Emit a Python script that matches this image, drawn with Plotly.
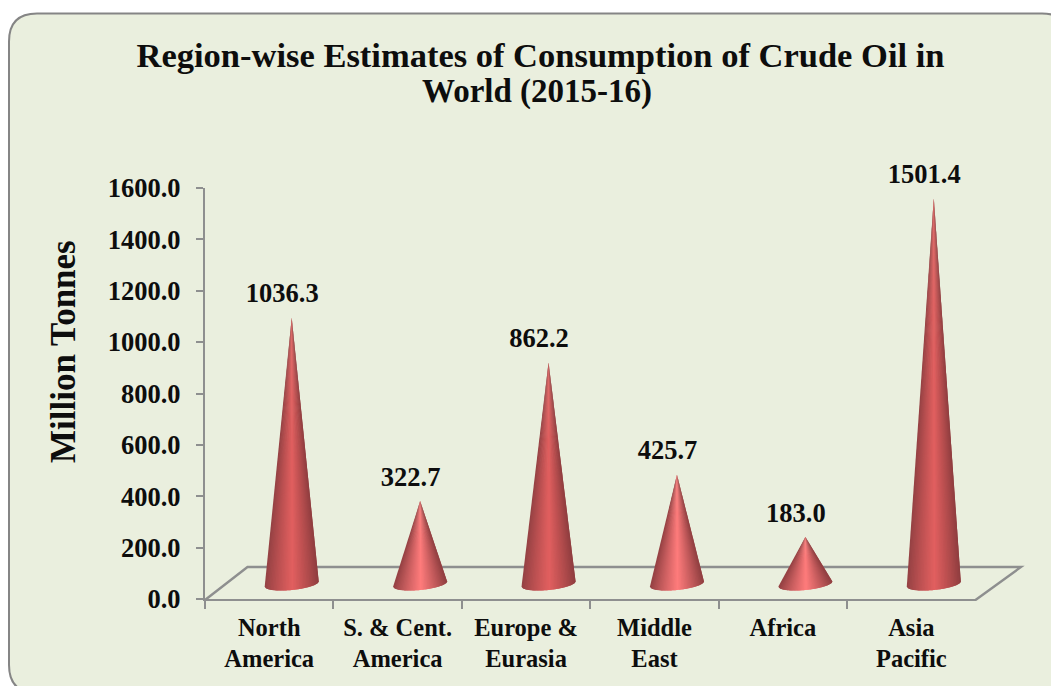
import numpy as np
import plotly.graph_objects as go

W, H = 1051, 686
categories = ["North<br>America", "S. & Cent.<br>America", "Europe &<br>Eurasia",
              "Middle<br>East", "Africa", "Asia<br>Pacific"]
values = [1036.3, 322.7, 862.2, 425.7, 183.0, 1501.4]
value_labels = ["1036.3", "322.7", "862.2", "425.7", "183.0", "1501.4"]
y_ticks = [0, 200, 400, 600, 800, 1000, 1200, 1400, 1600]
y_tick_labels = ["0.0", "200.0", "400.0", "600.0", "800.0", "1000.0", "1200.0", "1400.0", "1600.0"]
title_line_1 = "Region-wise Estimates of Consumption of Crude Oil in"
title_line_2 = "World (2015-16)"
y_title = "Million Tonnes"

# Layout geometry (pixels)
X0, X1, Y0, Y1 = 205.0, 975.5, 599.0, 188.0
cat_px = (X1 - X0) / len(categories)
val_px = (Y0 - Y1) / 1600.0
FONT = "Liberation Serif"
TEXT = "#0d0d0d"
GRID = "#8e8f8f"
PANEL = "#EAEFDE"

# Depth of the pseudo-3D box, in data units of each axis
DX = 22.5 / cat_px
DY = 15.0 / val_px
HALF_W = 27.0 / cat_px
ELL_B = 6.0 / val_px
ELL_T = 2.6 / val_px


def mix(a, b, t):
    return tuple(a[i] + (b[i] - a[i]) * t for i in range(3))


def shade(u, bright):
    edge_l, edge_r = (150, 66, 68), (140, 60, 62)
    edge = edge_l if u < 0 else edge_r
    t = (1 - abs(u - 0.02)) ** 0.9
    c = mix(edge, bright, max(0.0, min(1.0, t)))
    return "rgb(%d,%d,%d)" % c


fig = go.Figure()
# Invisible carrier of the visible category axis
fig.add_trace(go.Bar(x=categories, y=values, marker=dict(opacity=0, line=dict(width=0)),
                     hoverinfo="skip", showlegend=False, xaxis="x", yaxis="y"))

N = 36
for i, v in enumerate(values):
    cx = i + DX
    apex = v + DY
    base = DY
    bright = (226, 96, 96) if v > 700 else (255, 124, 124)
    edges = np.linspace(-1, 1, N + 1)
    for k in range(N):
        # Each slice overlaps the next one, so no seams show between them
        us = np.linspace(edges[k], edges[min(k + 2, N)], 5)
        bx = cx + HALF_W * us
        by = base - ELL_B * np.sqrt(np.clip(1 - us ** 2, 0, 1)) + ELL_T * us
        col = shade((edges[k] + edges[k + 1]) / 2, bright)
        fig.add_trace(go.Scatter(
            x=[cx, *bx, cx], y=[apex, *by, apex], mode="lines", fill="toself",
            fillcolor=col, line=dict(color=col, width=0), hoverinfo="skip",
            showlegend=False, xaxis="x2", yaxis="y2"))

# Value labels sit above each apex
fig.add_trace(go.Scatter(
    x=[i + DX - 9.5 / cat_px for i in range(len(values))],
    y=[v + DY + 22 / val_px for v in values],
    text=value_labels, mode="text", textposition="middle center",
    textfont=dict(family=FONT, size=26.5, color=TEXT, weight=700),
    hoverinfo="skip", showlegend=False, xaxis="x2", yaxis="y2"))


def panel_path(l, t, r, b, rad):
    return (f"M {l},{(H-t-rad)/H} Q {l},{(H-t)/H} {l+rad/W},{(H-t)/H} "
            f"L {r-rad/W},{(H-t)/H} Q {r},{(H-t)/H} {r},{(H-t-rad)/H} "
            f"L {r},{(H-b+rad)/H} Q {r},{(H-b)/H} {r-rad/W},{(H-b)/H} "
            f"L {l+rad/W},{(H-b)/H} Q {l},{(H-b)/H} {l},{(H-b+rad)/H} Z")


def px(x, y):
    return x / W, 1 - y / H


fl = [px(205, 600), px(247.5, 567), px(1021, 567), px(975.5, 600)]
floor = "M " + " L ".join(f"{a},{b}" for a, b in fl)

shapes = [
    dict(type="path", xref="paper", yref="paper", layer="below",
         path=panel_path(9.0 / W, 13.5, 1070.0 / W, 693.0, 28),
         fillcolor=PANEL, line=dict(color="#858585", width=2)),
    dict(type="path", xref="paper", yref="paper", layer="below",
         path=floor, line=dict(color=GRID, width=2.4)),
]

fig.update_layout(
    width=W, height=H, margin=dict(l=0, r=0, t=0, b=0, autoexpand=False), autosize=False,
    paper_bgcolor="white", plot_bgcolor="rgba(0,0,0,0)", showlegend=False,
    shapes=shapes,
    title=dict(text=title_line_1, x=540.5 / W, xanchor="center", xref="paper",
               y=1 - 55 / H, yanchor="middle", yref="container",
               font=dict(family=FONT, size=34.5, color=TEXT, weight=700)),
    annotations=[
        dict(text=title_line_2, x=537 / W, y=1 - 92 / H, xref="paper", yref="paper",
             xanchor="center", yanchor="middle", showarrow=False,
             font=dict(family=FONT, size=33, color=TEXT, weight=700)),
        dict(text=y_title, x=63 / W, y=1 - 352 / H, xref="paper", yref="paper",
             xanchor="center", yanchor="middle", showarrow=False, textangle=-90,
             font=dict(family=FONT, size=35, color=TEXT, weight=700)),
    ],
    xaxis=dict(domain=[X0 / W, X1 / W], type="category", categoryorder="array",
               categoryarray=categories, range=[-0.5, 5.5], tickson="boundaries",
               ticks="outside", ticklen=8, tickwidth=2.2, tickcolor=GRID,
               showline=True, linecolor=GRID, linewidth=2.4, showgrid=False,
               zeroline=False, anchor="y", ticklabelstandoff=5,
               tickfont=dict(family=FONT, size=24.5, color=TEXT, weight=700)),
    yaxis=dict(domain=[1 - Y0 / H, 1 - Y1 / H], range=[0, 1600],
               tickvals=y_ticks, ticktext=y_tick_labels,
               ticks="outside", ticklen=7, tickwidth=2.2, tickcolor=GRID,
               showline=True, linecolor=GRID, linewidth=2.4, showgrid=False,
               zeroline=False, anchor="x", ticklabelstandoff=10,
               tickfont=dict(family=FONT, size=26.5, color=TEXT, weight=700)),
    # A second pair of axes spans the whole page at the same scale as the visible axes
    xaxis2=dict(domain=[0, 1], visible=False, anchor="y2",
                range=[-0.5 - X0 / cat_px, -0.5 + (W - X0) / cat_px]),
    yaxis2=dict(domain=[0, 1], visible=False, anchor="x2",
                range=[-(H - Y0) / val_px, Y0 / val_px]),
)

fig.write_html("out.html", post_script="document.body.style.margin='0';",
               config=dict(displayModeBar=False))
